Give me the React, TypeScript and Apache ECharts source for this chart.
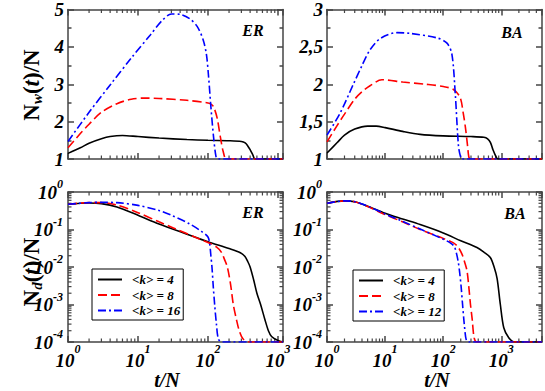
import React, { useEffect, useRef } from 'react';
import * as echarts from 'echarts';

const FONT = '"Liberation Serif", "Times New Roman", Times, serif';

// ---------- data (t/N, value) ----------
// Top: N_w(t)/N, ER
const erNwK4: [number, number][] = [[1, 1.15], [1.5, 1.3], [2, 1.42], [3, 1.54], [4, 1.6], [6, 1.63], [10, 1.6], [20, 1.56], [50, 1.52], [100, 1.5], [200, 1.49], [300, 1.47], [340, 1.43], [370, 1.35], [400, 1.25], [440, 1.1], [470, 1], [1180, 1]];
const erNwK8: [number, number][] = [[1, 1.3], [1.5, 1.68], [2, 1.93], [3, 2.25], [5, 2.48], [8, 2.6], [12, 2.63], [20, 2.62], [50, 2.57], [100, 2.5], [110, 2.47], [120, 2.4], [135, 2.1], [150, 1.6], [165, 1.2], [185, 1], [1180, 1]];
const erNwK16: [number, number][] = [[1, 1.47], [2, 2.25], [4, 2.98], [8, 3.7], [15, 4.32], [22, 4.7], [30, 4.88], [40, 4.87], [55, 4.75], [70, 4.55], [85, 4.2], [95, 3.8], [102, 3.2], [110, 2.4], [120, 1.6], [130, 1.07], [138, 1], [1180, 1]];
// Top: N_w(t)/N, BA
const baNwK4: [number, number][] = [[1, 1.08], [1.5, 1.22], [2, 1.32], [3, 1.4], [5, 1.44], [7, 1.44], [10, 1.42], [20, 1.37], [40, 1.33], [100, 1.31], [300, 1.3], [500, 1.29], [580, 1.27], [650, 1.22], [720, 1.12], [800, 1.04], [870, 1], [5000, 1]];
const baNwK8: [number, number][] = [[1, 1.23], [1.5, 1.45], [2, 1.6], [3, 1.8], [4, 1.9], [5.5, 1.98], [8.8, 2.06], [20, 2.03], [50, 2.0], [100, 1.97], [150, 1.93], [196, 1.82], [220, 1.62], [240, 1.43], [260, 1.2], [275, 1.03], [290, 1], [5000, 1]];
const baNwK12: [number, number][] = [[1, 1.32], [1.67, 1.61], [2.84, 2.0], [4, 2.25], [5.5, 2.46], [8.2, 2.61], [15.9, 2.69], [27, 2.68], [78, 2.62], [116, 2.55], [141, 2.4], [161, 1.87], [183, 1.17], [200, 1.02], [209, 1], [5000, 1]];
// Bottom: N_d(t)/N, ER
const erNdK4: [number, number][] = [[1, 0.47], [2, 0.51], [3, 0.49], [5, 0.4], [10, 0.24], [20, 0.14], [50, 0.075], [100, 0.047], [200, 0.031], [290, 0.024], [338, 0.019], [370, 0.014], [400, 0.01], [450, 0.0045], [500, 0.002], [565, 0.001], [650, 0.0004], [730, 0.0002], [810, 0.00014], [1000, 0.00011], [1180, 0.0001]];
const erNdK8: [number, number][] = [[1, 0.47], [2, 0.52], [3, 0.52], [5, 0.45], [10, 0.28], [20, 0.16], [32, 0.11], [77, 0.055], [100, 0.045], [133, 0.034], [155, 0.025], [172, 0.016], [189, 0.01], [210, 0.0035], [230, 0.001], [255, 0.0004], [280, 0.0002], [318, 0.00012], [400, 0.0001], [1180, 0.0001]];
const erNdK16: [number, number][] = [[1, 0.47], [2, 0.52], [3, 0.53], [5, 0.52], [10, 0.44], [20, 0.32], [30, 0.24], [55, 0.14], [80, 0.09], [100, 0.063], [106, 0.04], [110, 0.02], [114, 0.01], [119, 0.003], [124.5, 0.001], [132, 0.0003], [141, 0.00012], [160, 0.0001], [1180, 0.0001]];
// Bottom: N_d(t)/N, BA
const baNdK4: [number, number][] = [[1, 0.5], [2, 0.58], [3, 0.55], [5, 0.42], [10, 0.27], [20, 0.19], [40, 0.135], [100, 0.081], [200, 0.05], [380, 0.033], [500, 0.025], [645, 0.018], [750, 0.01], [845, 0.0049], [960, 0.001], [1100, 0.00024], [1340, 0.00013], [1700, 0.0001], [5000, 0.0001]];
const baNdK8: [number, number][] = [[1, 0.5], [2, 0.58], [3, 0.55], [5, 0.41], [10, 0.25], [20, 0.16], [40, 0.1], [100, 0.058], [150, 0.044], [180, 0.034], [210, 0.022], [235, 0.013], [256, 0.008], [275, 0.003], [294, 0.001], [315, 0.0004], [340, 0.00013], [380, 0.0001], [5000, 0.0001]];
const baNdK12: [number, number][] = [[1, 0.5], [2, 0.58], [3, 0.55], [5, 0.42], [10, 0.26], [20, 0.165], [40, 0.103], [100, 0.055], [132, 0.044], [155, 0.035], [170, 0.022], [182, 0.013], [190, 0.008], [203, 0.003], [215, 0.001], [230, 0.0003], [250, 0.00011], [280, 0.0001], [5000, 0.0001]];

const erLegend = ['<k> = 4', '<k> = 8', '<k> = 16'];
const baLegend = ['<k> = 4', '<k> = 8', '<k> = 12'];

// axis ranges
const xMaxLeft = 1180;
const xMaxRight = 5000;
const yNdMin = 1e-4;
const yNdMax = 1;

// log minor ticks
const minorMultipliers = [2, 3, 4, 5, 6, 7, 8, 9];
const xDecades = [1, 10, 100, 1000];
const yDecades = [1e-4, 1e-3, 1e-2, 1e-1];

const FRAME = '#444';
const lineStyleAxis = { color: FRAME, width: 1.5 };

const styles: Record<string, { color: string; type: any }> = {
  k4: { color: '#000000', type: 'solid' },
  k8: { color: '#ff0000', type: [9, 4] },
  k16: { color: '#0000ff', type: [8, 3, 2, 3] },
};

function isPow10(v: number) {
  const e = Math.log10(v);
  return Math.abs(e - Math.round(e)) < 0.01;
}

const supRichX = {
  b: { fontFamily: FONT, fontSize: 19, fontWeight: 'bold', fontStyle: 'italic', color: '#000', padding: [8, 0, 0, 0] },
  s: { fontFamily: FONT, fontSize: 12, fontWeight: 'bold', fontStyle: 'italic', color: '#000', padding: [0, 0, 15, 0] },
};
const supRichY = {
  b: { fontFamily: FONT, fontSize: 19, fontWeight: 'bold', fontStyle: 'italic', color: '#000', padding: [8, 0, 8, 0] },
  s: { fontFamily: FONT, fontSize: 12, fontWeight: 'bold', fontStyle: 'italic', color: '#000', padding: [0, 0, 16, 0] },
};

function powLabel(v: number) {
  if (!isPow10(v)) return '';
  const e = Math.round(Math.log10(v));
  return `{b|10}{s|${e}}`;
}

function xAxesFor(gridIndex: number, max: number, labels: boolean) {
  const base = {
    type: 'log', logBase: 10, gridIndex, min: 1, max,
    axisLine: { show: true, onZero: false, lineStyle: lineStyleAxis },
    axisTick: { show: true, inside: true, length: 6, lineStyle: lineStyleAxis },
    splitLine: { show: false },
    minorTick: { show: false },
    minorSplitLine: { show: false },
  };
  return [
    {
      ...base, position: 'bottom',
      axisLabel: labels
        ? { show: true, margin: 1, formatter: powLabel, rich: supRichX, showMaxLabel: true }
        : { show: false },
    },
    { ...base, position: 'top', axisLabel: { show: false } },
  ];
}

function yLinAxesFor(gridIndex: number, min: number, max: number, interval: number, comma: boolean) {
  const base = {
    type: 'value', gridIndex, min, max, interval,
    axisLine: { show: true, onZero: false, lineStyle: lineStyleAxis },
    axisTick: { show: true, inside: true, length: 6, lineStyle: lineStyleAxis },
    minorTick: { show: true, splitNumber: 2, length: 3.5, lineStyle: lineStyleAxis },
    splitLine: { show: false },
  };
  return [
    {
      ...base, position: 'left',
      axisLabel: {
        show: true, margin: 4, fontFamily: FONT, fontSize: 19, fontWeight: 'bold', fontStyle: 'italic', color: '#000',
        formatter: (v: number) => (comma ? String(v).replace('.', ',') : String(v)),
      },
    },
    { ...base, position: 'right', axisLabel: { show: false } },
  ];
}

function yLogAxesFor(gridIndex: number) {
  const base = {
    type: 'log', logBase: 10, gridIndex, min: yNdMin, max: yNdMax,
    axisLine: { show: true, onZero: false, lineStyle: lineStyleAxis },
    axisTick: { show: true, inside: true, length: 6, lineStyle: lineStyleAxis },
    minorTick: { show: false },
    splitLine: { show: false },
  };
  return [
    { ...base, position: 'left', axisLabel: { show: true, margin: 5, formatter: powLabel, rich: supRichY } },
    { ...base, position: 'right', axisLabel: { show: false } },
  ];
}

function minorX(xIdx: number, yIdx: number, xMax: number, yLo: number, yHi: number) {
  const vals: number[] = [];
  xDecades.forEach((d) => minorMultipliers.forEach((m) => { if (d * m < xMax) vals.push(d * m); }));
  return {
    type: 'custom', xAxisIndex: xIdx, yAxisIndex: yIdx, silent: true, clip: false, z: 3,
    data: vals.map((v) => [v, yLo]),
    renderItem: (_p: any, api: any) => {
      const v = api.value(0);
      const a = api.coord([v, yLo]);
      const b = api.coord([v, yHi]);
      const st = { stroke: FRAME, lineWidth: 1.2 };
      return {
        type: 'group',
        children: [
          { type: 'line', shape: { x1: a[0], y1: a[1], x2: a[0], y2: a[1] - 3.5 }, style: st },
          { type: 'line', shape: { x1: b[0], y1: b[1], x2: b[0], y2: b[1] + 3.5 }, style: st },
        ],
      };
    },
  };
}

function minorY(xIdx: number, yIdx: number, xMax: number) {
  const vals: number[] = [];
  yDecades.forEach((d) => minorMultipliers.forEach((m) => vals.push(d * m)));
  return {
    type: 'custom', xAxisIndex: xIdx, yAxisIndex: yIdx, silent: true, clip: false, z: 3,
    data: vals.map((v) => [1, v]),
    renderItem: (_p: any, api: any) => {
      const v = api.value(1);
      const a = api.coord([1, v]);
      const b = api.coord([xMax, v]);
      const st = { stroke: FRAME, lineWidth: 1.2 };
      return {
        type: 'group',
        children: [
          { type: 'line', shape: { x1: a[0], y1: a[1], x2: a[0] + 3.5, y2: a[1] }, style: st },
          { type: 'line', shape: { x1: b[0], y1: b[1], x2: b[0] - 3.5, y2: b[1] }, style: st },
        ],
      };
    },
  };
}

function line(name: string, data: [number, number][], xIdx: number, yIdx: number, kind: string) {
  const s = styles[kind];
  return {
    type: 'line', name, data, xAxisIndex: xIdx, yAxisIndex: yIdx,
    symbol: 'none', showSymbol: false, smooth: 0.3, clip: true, z: 4,
    lineStyle: { color: s.color, width: 1.6, type: s.type },
    itemStyle: { color: s.color },
  };
}

function legendFor(left: number, top: number, names: string[]) {
  return {
    left, top, orient: 'vertical',
    data: names,
    formatter: (n: string) => n.replace(/^(ER|BA) /, ''),
    borderColor: '#000', borderWidth: 1, borderRadius: 0,
    padding: [4, 3, 3, 5],
    itemWidth: 24, itemHeight: 12, itemGap: 2.5,
    selectedMode: false,
    itemStyle: { color: 'rgba(0,0,0,0)', borderColor: 'rgba(0,0,0,0)', borderWidth: 0, opacity: 0 },
    textStyle: { fontFamily: FONT, fontSize: 13, fontWeight: 'bold', fontStyle: 'italic', color: '#000', padding: [0, 0, 0, 5], lineHeight: 12 },
  };
}

function annot(x: number, y: number, text: string) {
  return {
    type: 'text', x, y,
    style: { text, fontFamily: FONT, fontSize: 16, fontWeight: 'bold', fontStyle: 'italic', fill: '#000', align: 'center', verticalAlign: 'middle' },
  };
}

function yTitle(x: number, y: number, sub: string) {
  return {
    type: 'text', x, y, rotation: Math.PI / 2,
    style: {
      text: `{n|N}{sub|${sub}}{n|(}{i|t}{n|)/N}`,
      align: 'center', verticalAlign: 'middle',
      rich: {
        n: { fontFamily: FONT, fontSize: 23, fontWeight: 'bold', fill: '#000' },
        i: { fontFamily: FONT, fontSize: 23, fontWeight: 'bold', fontStyle: 'italic', fill: '#000' },
        sub: { fontFamily: FONT, fontSize: 15, fontWeight: 'bold', fontStyle: 'italic', fill: '#000', padding: [12, 0, 0, 0] },
      },
    },
  };
}

function xTitle(x: number, y: number) {
  return {
    type: 'text', x, y,
    style: { text: 't/N', fontFamily: FONT, fontSize: 20, fontWeight: 'bold', fontStyle: 'italic', fill: '#000', align: 'center', verticalAlign: 'middle' },
  };
}

export default function App() {
  const ref = useRef<HTMLDivElement>(null);
  useEffect(() => {
    if (!ref.current) return;
    const chart = echarts.init(ref.current, undefined, { renderer: 'svg' });
    const erNames = erLegend.map((n) => 'ER ' + n);
    const baNames = baLegend.map((n) => 'BA ' + n);
    const option: any = {
      animation: false,
      backgroundColor: '#fff',
      grid: [
        { left: 68, top: 8, width: 215, height: 151 },
        { left: 327, top: 8, width: 215, height: 151 },
        { left: 68, top: 192, width: 215, height: 150 },
        { left: 327, top: 192, width: 215, height: 150 },
      ],
      xAxis: [
        ...xAxesFor(0, xMaxLeft, false),
        ...xAxesFor(1, xMaxRight, false),
        ...xAxesFor(2, xMaxLeft, true),
        ...xAxesFor(3, xMaxRight, true),
      ],
      yAxis: [
        ...yLinAxesFor(0, 1, 5, 1, false),
        ...yLinAxesFor(1, 1, 3, 0.5, true),
        ...yLogAxesFor(2),
        ...yLogAxesFor(3),
      ],
      legend: [legendFor(92, 269, erNames), legendFor(353, 270, baNames)],
      series: [
        minorX(0, 0, xMaxLeft, 1, 5),
        minorX(2, 2, xMaxRight, 1, 3),
        minorX(4, 4, xMaxLeft, yNdMin, yNdMax),
        minorX(6, 6, xMaxRight, yNdMin, yNdMax),
        minorY(4, 4, xMaxLeft),
        minorY(6, 6, xMaxRight),
        line(erNames[0], erNwK4, 0, 0, 'k4'),
        line(erNames[1], erNwK8, 0, 0, 'k8'),
        line(erNames[2], erNwK16, 0, 0, 'k16'),
        line(baNames[0], baNwK4, 2, 2, 'k4'),
        line(baNames[1], baNwK8, 2, 2, 'k8'),
        line(baNames[2], baNwK12, 2, 2, 'k16'),
        line(erNames[0], erNdK4, 4, 4, 'k4'),
        line(erNames[1], erNdK8, 4, 4, 'k8'),
        line(erNames[2], erNdK16, 4, 4, 'k16'),
        line(baNames[0], baNdK4, 6, 6, 'k4'),
        line(baNames[1], baNdK8, 6, 6, 'k8'),
        line(baNames[2], baNdK12, 6, 6, 'k16'),
      ],
      graphic: [
        annot(253, 30, 'ER'),
        annot(512, 32, 'BA'),
        annot(253, 212, 'ER'),
        annot(515, 213, 'BA'),
        yTitle(31, 85, 'w'),
        yTitle(31, 272, 'd'),
        xTitle(167, 380),
        xTitle(437, 380),
      ],
    };
    chart.setOption(option);
    return () => chart.dispose();
  }, []);
  return <div ref={ref} style={{ position: 'absolute', left: 0, top: 0, width: 545, height: 391 }} />;
}
